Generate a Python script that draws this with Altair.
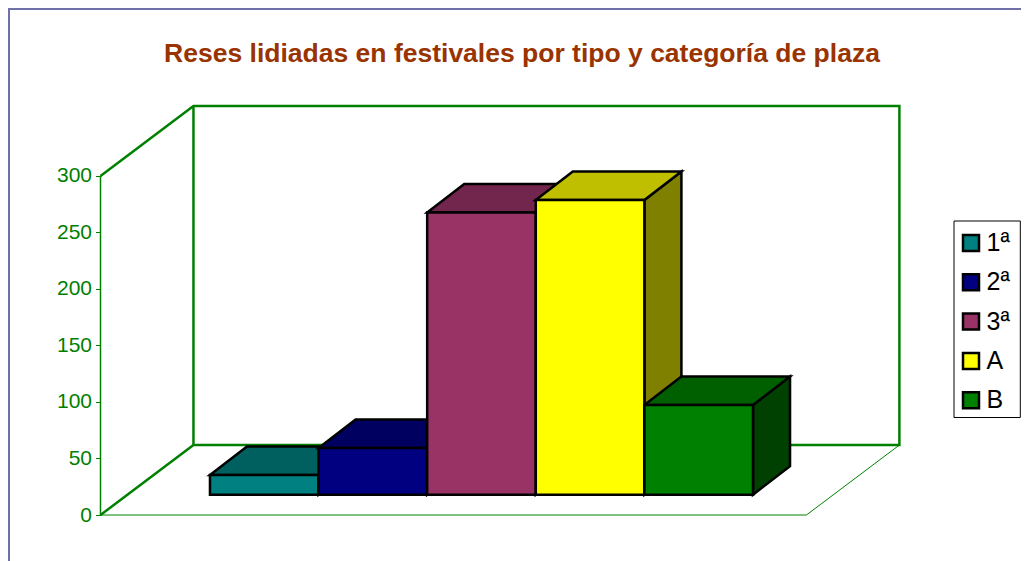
import altair as alt
import pandas as pd

title_text = "Reses lidiadas en festivales por tipo y categoría de plaza"
categories = ["1ª", "2ª", "3ª", "A", "B"]
values = [17.4, 41.3, 249.6, 260.8, 79.4]
front_colors = ["#008080", "#000080", "#993366", "#FFFF00", "#008000"]
top_colors = ["#006060", "#000060", "#73264D", "#BFBF00", "#006000"]
side_colors = ["#004040", "#000040", "#4D1A33", "#808000", "#004000"]
y_ticks = [0, 50, 100, 150, 200, 250, 300]

FONT = "Liberation Sans"
GREEN = "#008000"
FRAME = "#7070AA"

# 3-D geometry in data units (x: one bar = 1, y: axis value)
FLOOR_W = 6.5
WALL_DX, WALL_DY = 0.856, 61.9
BAR_X0, BAR_Y0 = 1.008, 18.0
BAR_DX, BAR_DY = 0.341, 25.2
Y_MAX = 300

X_DOMAIN = [0, 7.357]
Y_DOMAIN = [0, Y_MAX + WALL_DY]

fronts, tops, sides = [], [], []
for i, (c, v) in enumerate(zip(categories, values)):
    xl, xr = BAR_X0 + i, BAR_X0 + i + 1
    yb, yt = BAR_Y0, BAR_Y0 + v
    fronts.append(dict(cat=c, x=xl, x2=xr, y=yb, y2=yt))
    tops.append(dict(k=i, fill=top_colors[i], y=yt, x=xl, x2=xr))
    tops.append(dict(k=i, fill=top_colors[i], y=yt + BAR_DY, x=xl + BAR_DX, x2=xr + BAR_DX))
    sides.append(dict(k=i, fill=side_colors[i], x=xr, y=yb, y2=yt))
    sides.append(dict(k=i, fill=side_colors[i], x=xr + BAR_DX, y=yb + BAR_DY, y2=yt + BAR_DY))

wall_pts = [
    (0, Y_MAX), (WALL_DX, Y_MAX + WALL_DY), (FLOOR_W + WALL_DX, Y_MAX + WALL_DY),
    (FLOOR_W + WALL_DX, WALL_DY), (WALL_DX, WALL_DY), (0, 0),
]
back_edge = [(WALL_DX, WALL_DY), (WALL_DX, Y_MAX + WALL_DY)]
floor_pts = [(0, 0), (FLOOR_W, 0), (FLOOR_W + WALL_DX, WALL_DY)]
axis_pts = [(0, 0), (0, Y_MAX)]


def path(name, pts):
    return [dict(seg=name, o=j, x=p[0], y=p[1]) for j, p in enumerate(pts)]


X = lambda f="x": alt.X(f"{f}:Q", scale=alt.Scale(domain=X_DOMAIN, nice=False, zero=False), axis=None)
Y = lambda f="y": alt.Y(
    f"{f}:Q", stack=None, title=None,
    scale=alt.Scale(domain=Y_DOMAIN, nice=False, zero=False),
    axis=alt.Axis(values=y_ticks, domain=False, grid=False, labelFont=FONT, labelFontSize=21,
                  labelColor=GREEN, tickColor=GREEN, tickSize=5, tickWidth=1, labelPadding=4),
)


def lines(rows, width):
    return alt.Chart(pd.DataFrame(rows)).mark_line(color=GREEN, strokeWidth=width).encode(
        x=X(), y=Y(), detail="seg:N", order="o:Q")


thick = lines(path("wall", wall_pts) + path("back", back_edge), 2.5)
thin = lines(path("floor", floor_pts), 1)
axis_line = lines(path("axis", axis_pts), 1.5)

side_layer = alt.Chart(pd.DataFrame(sides)).mark_area(stroke="black", strokeWidth=2.5).encode(
    x=X(), y=Y(), y2="y2:Q", fill=alt.Fill("fill:N", scale=None), detail="k:N")
top_layer = alt.Chart(pd.DataFrame(tops)).mark_area(orient="horizontal", stroke="black", strokeWidth=2.5).encode(
    y=Y(), x=alt.X("x:Q", scale=alt.Scale(domain=X_DOMAIN, nice=False, zero=False), axis=None, stack=None),
    x2="x2:Q", fill=alt.Fill("fill:N", scale=None), detail="k:N")
front_layer = alt.Chart(pd.DataFrame(fronts)).mark_rect(stroke="black", strokeWidth=2.5).encode(
    x=X(), x2="x2:Q", y=Y(), y2="y2:Q",
    fill=alt.Fill("cat:N", scale=alt.Scale(domain=categories, range=front_colors), sort=categories,
                  legend=alt.Legend(
                      title=None, orient="none", legendX=858, legendY=124.5, padding=0,
                      symbolType="square", symbolSize=256,
                      symbolStrokeColor="black", symbolStrokeWidth=2.5, labelFont=FONT, labelFontSize=25,
                      labelColor="black", labelOffset=3, rowPadding=12.3)),
)

anchor = pd.DataFrame({"a": [0]})
legend_box = alt.Chart(anchor).mark_rect(fill="white", stroke="black", strokeWidth=1).encode(
    x=alt.value(853.5), x2=alt.value(919.8), y=alt.value(115), y2=alt.value(311.5))
frame_left = alt.Chart(anchor).mark_rule(color=FRAME, strokeWidth=2).encode(
    x=alt.value(-91.5), y=alt.value(-97), y2=alt.value(460))
frame_top = alt.Chart(anchor).mark_rule(color=FRAME, strokeWidth=2).encode(
    y=alt.value(-97), x=alt.value(-92.5), x2=alt.value(930))

chart = alt.layer(frame_left, frame_top, legend_box, thin, axis_line, thick, side_layer, top_layer, front_layer).properties(
    width=799, height=409,
    padding={"left": 92.5, "top": 98, "right": 121.5, "bottom": 46},
    autosize=alt.AutoSizeParams(type="none"),
    background="white",
    title=alt.TitleParams(title_text, font=FONT, fontSize=26.5, fontWeight="bold", color="#993300",
                          anchor="middle", frame="group", dx=22, offset=-59),
).configure_view(stroke=None)

chart.save("out.html", embed_options={"renderer": "svg", "actions": False})
